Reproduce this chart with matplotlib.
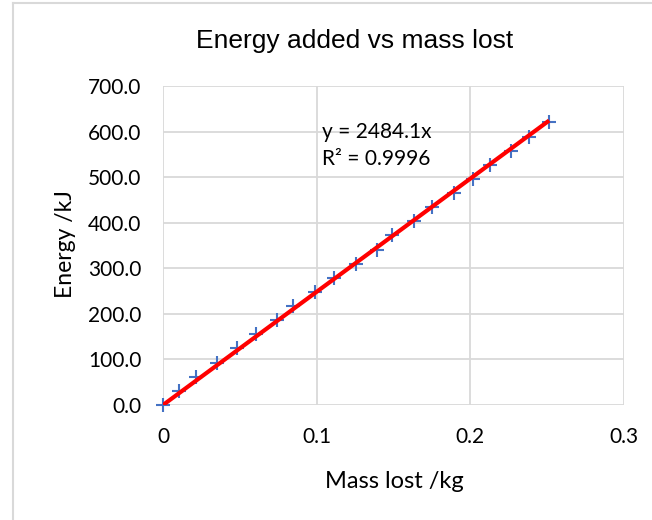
import matplotlib
matplotlib.use("Agg")
import matplotlib.pyplot as plt
from matplotlib.lines import Line2D
import numpy as np

# Data
mass_lost = [0.0, 0.0106, 0.0213, 0.0350, 0.0484, 0.0606, 0.0745, 0.0849, 0.0990,
             0.1116, 0.1257, 0.1392, 0.1490, 0.1635, 0.1752, 0.1891, 0.2020,
             0.2126, 0.2267, 0.2380, 0.2513]
energy = [0, 31, 62, 93, 124, 155, 186, 217, 248, 279, 310, 341, 372, 403, 434,
          465, 496, 527, 558, 589, 620]
slope = 2484.1
r2 = 0.9996
x_ticks = [0, 0.1, 0.2, 0.3]
x_tick_labels = ["0", "0.1", "0.2", "0.3"]
y_ticks = [0, 100, 200, 300, 400, 500, 600, 700]

W, H = 652, 520
fig = plt.figure(figsize=(W / 100, H / 100), dpi=100)
ax = fig.add_axes([163 / W, 1 - 405 / H, (624 - 163) / W, (405 - 86) / H])

grid_c = "#D9D9D9"
ax.set_xlim(0, 0.3)
ax.set_ylim(0, 700)
ax.set_xticks(x_ticks)
ax.set_xticklabels(x_tick_labels)
ax.set_yticks(y_ticks)
ax.set_yticklabels([f"{v:.1f}" for v in y_ticks])
ax.grid(True, color=grid_c, linewidth=1.3)
ax.set_axisbelow(True)
for s in ax.spines.values():
    s.set_visible(False)
ax.tick_params(axis="x", length=0, pad=16)
ax.tick_params(axis="y", length=0, pad=15.5)

tick_font = "Lato"
for lab in ax.get_xticklabels() + ax.get_yticklabels():
    lab.set_fontfamily(tick_font)
    lab.set_fontsize(15)
    lab.set_color("#000000")

# trendline through origin
xt = np.array([0, max(mass_lost)])
ax.plot(xt, slope * xt, color="#FF0000", linewidth=3, zorder=3, solid_capstyle="butt")
ax.plot(mass_lost, energy, linestyle="none", marker="+", markersize=10.5,
        markeredgewidth=1.5, color="#4472C4", zorder=2, clip_on=False)

fig.text(355 / W, 1 - 48 / H, "Energy added vs mass lost", ha="center", va="baseline",
         fontsize=19, family="Liberation Sans", color="#000000")
fig.text(394 / W, 1 - 488 / H, "Mass lost /kg", ha="center", va="baseline",
         fontsize=17, family=tick_font, color="#000000")
fig.text(66 / W, 1 - 244 / H, "Energy /kJ", ha="center", va="center", rotation=90,
         fontsize=16.5, family=tick_font, color="#000000")
fig.text(322 / W, 1 - 138 / H, f"y = {slope}x", ha="left", va="baseline",
         fontsize=15, family=tick_font, color="#000000")
fig.text(322 / W, 1 - 165 / H, f"R² = {r2}", ha="left", va="baseline",
         fontsize=15, family=tick_font, color="#000000")

# chart border (left and top visible)
fig.add_artist(Line2D([12.5 / W, 12.5 / W], [0, 1 - 3 / H], transform=fig.transFigure,
                      color=grid_c, linewidth=1.5))
fig.add_artist(Line2D([12.5 / W, 1], [1 - 3 / H, 1 - 3 / H], transform=fig.transFigure,
                      color=grid_c, linewidth=1.5))

fig.savefig("out.png", dpi=100, facecolor="white")
